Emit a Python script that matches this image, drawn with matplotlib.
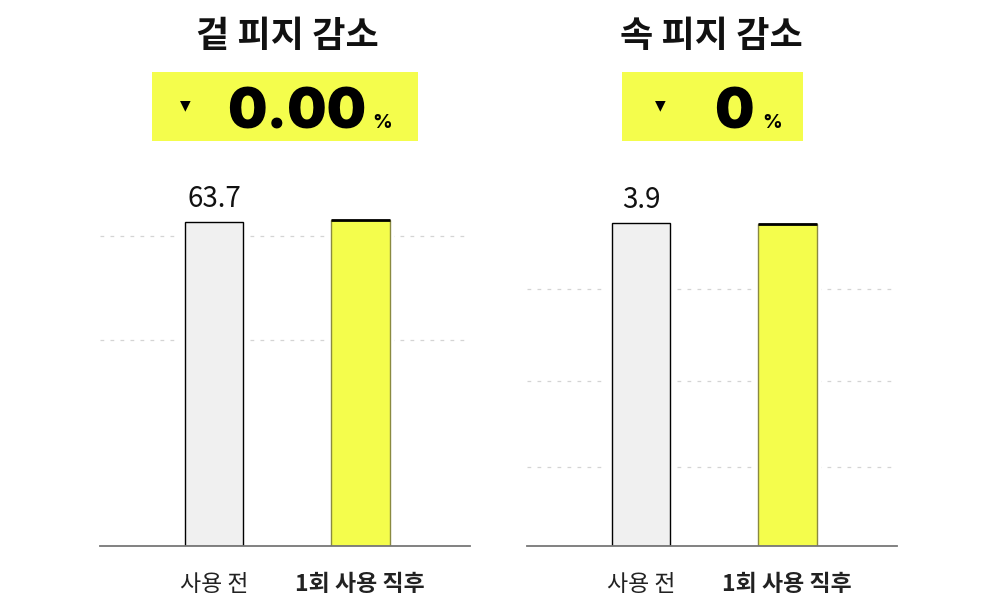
import matplotlib.pyplot as plt
from matplotlib.patches import Rectangle

plt.rcParams['font.family'] = ['Noto Sans CJK KR', 'DejaVu Sans']

# 데이터
categories = ['사용 전', '1회 사용 직후']
titles = ['겉 피지 감소', '속 피지 감소']
change_labels = ['0.00', '0']
before_vals = [63.7, 3.9]
after_vals = [64.1, 3.89]
grid_vals = [[40.5, 61], [0.95, 2.0, 3.1]]
ylims = [75.9, 4.665]

yellow = '#f4fd4c'
gray_bar = '#f0f0f0'

fig = plt.figure(figsize=(10, 6.1), dpi=100)

W, H = 1000, 610
ax_left = [100, 527]
box_left = [152, 622]
box_w = [266, 181]
title_x = [287, 711]
tri_x = [185, 660]
num_x = [297, 734]
pct_x = [382, 772]

for i in range(2):
    ax = fig.add_axes([ax_left[i] / W, (H - 546) / H, 370 / W, 386 / H])
    x = [0, 1]
    bw = 0.40
    vals = [before_vals[i], after_vals[i]]
    # 막대 주변 흰 여백
    ax.bar(x, vals, width=bw + 0.06, color='white', zorder=2)
    ax.bar(x[0], before_vals[i], width=bw, color=gray_bar, edgecolor='black',
           linewidth=1, zorder=3)
    ax.bar(x[1], after_vals[i], width=bw, color=yellow, edgecolor='#8a8a40',
           linewidth=1, zorder=3)
    ax.hlines(after_vals[i], x[1] - bw / 2, x[1] + bw / 2, color='black',
              linewidth=2, zorder=4)
    ax.text(x[0], before_vals[i] + ylims[i] * 0.022,
            f'{before_vals[i]:g}', ha='center', va='bottom', fontsize=20,
            color='#111111')

    ax.set_xlim(-0.78, 1.75)
    ax.set_ylim(0, ylims[i])
    ax.set_yticks(grid_vals[i])
    ax.yaxis.grid(True, color='#d4d4d4', linestyle=(0, (3, 5)), linewidth=0.9)
    ax.set_axisbelow(True)
    ax.tick_params(left=False, labelleft=False, bottom=False)
    ax.set_xticks(x)
    ax.set_xticklabels(categories, fontsize=16.5, color='#222222')
    ax.get_xticklabels()[1].set_fontweight('bold')
    ax.tick_params(axis='x', pad=16)
    for s in ['left', 'right', 'top']:
        ax.spines[s].set_visible(False)
    ax.spines['bottom'].set_color('#777777')
    ax.spines['bottom'].set_linewidth(1.3)
    ax.spines['bottom'].set_zorder(5)

    # 제목과 노란 박스
    fig.text(title_x[i] / W, (H - 36) / H, titles[i], ha='center', va='center',
             fontsize=26, fontweight='bold', color='#111111')
    fig.patches.append(Rectangle((box_left[i] / W, (H - 141) / H), box_w[i] / W,
                                 69 / H, transform=fig.transFigure,
                                 facecolor=yellow, edgecolor='none'))
    fig.text(tri_x[i] / W, (H - 105) / H, '▼', ha='center', va='center',
             fontsize=10, family=['DejaVu Sans'], color='black')
    fig.text(num_x[i] / W, (H - 128) / H, change_labels[i], ha='center',
             va='baseline', fontsize=40, fontweight='black',
             family=['Inter', 'DejaVu Sans'], color='black')
    fig.text(pct_x[i] / W, (H - 128) / H, '%', ha='center', va='baseline',
             fontsize=14, fontweight='bold', family=['Inter', 'DejaVu Sans'],
             color='black')

fig.savefig('out.png', dpi=100, facecolor='white')
